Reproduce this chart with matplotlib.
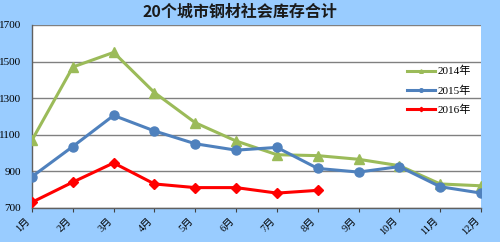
import matplotlib
matplotlib.use("Agg")
import matplotlib.pyplot as plt

# 20 cities steel social inventory
months = ["1月", "2月", "3月", "4月", "5月", "6月",
          "7月", "8月", "9月", "10月", "11月", "12月"]
stock_2014 = [1070, 1470, 1550, 1330, 1165, 1065, 990, 985, 965, 930, 830, 820]
stock_2015 = [870, 1035, 1205, 1120, 1050, 1015, 1030, 915, 895, 925, 815, 780]
stock_2016 = [730, 840, 945, 830, 810, 810, 780, 795]
y_ticks = [700, 900, 1100, 1300, 1500, 1700]

BG = "#99CCFF"
NUM_FONT = ["Liberation Serif", "Noto Sans CJK SC"]

fig = plt.figure(figsize=(5.0, 2.42), dpi=100, facecolor=BG)
ax = fig.add_axes([0.064, 0.1417, 0.898, 0.755])
ax.set_facecolor("white")

x = list(range(len(months)))
ax.plot(x, stock_2014, color="#9BBB59", lw=2.2, marker="^", ms=6.5,
        label="2014年", zorder=3)
ax.plot(x, stock_2015, color="#4F81BD", lw=2.2, marker="o", ms=6.5,
        label="2015年", zorder=4)
ax.plot(x[:len(stock_2016)], stock_2016, color="#FF0000", lw=2.2, marker="D",
        ms=5.5, label="2016年", zorder=5)

ax.set_xlim(0, len(months) - 1)
ax.set_ylim(700, 1700)
ax.set_yticks(y_ticks)
ax.set_yticklabels([str(v) for v in y_ticks], family=NUM_FONT, fontsize=8)
ax.set_xticks(x)
ax.set_xticklabels(months, family=NUM_FONT, fontsize=7.5, rotation=45,
                   ha="right", va="top")
ax.tick_params(axis="y", length=0, pad=8)
ax.tick_params(axis="x", length=3, direction="out", color="#404040", pad=3)

ax.grid(axis="y", color="#808080", lw=1.0, zorder=1)
for side in ("top", "right"):
    ax.spines[side].set_visible(False)
for side in ("left", "bottom"):
    ax.spines[side].set_color("#606060")
    ax.spines[side].set_linewidth(1.0)

ax.legend(loc="upper right", bbox_to_anchor=(1.0, 0.83), frameon=False,
          prop={"family": NUM_FONT, "size": 8}, handlelength=2.6,
          handletextpad=0.2, labelspacing=0.8, markerscale=0.4)

fig.text(0.48, 0.95, "20个城市钢材社会库存合计", ha="center", va="center",
         family=["Noto Sans CJK SC"], fontsize=11.5, fontweight="bold",
         color="#1a1a1a")

fig.savefig("out.png", dpi=100, facecolor=BG)
